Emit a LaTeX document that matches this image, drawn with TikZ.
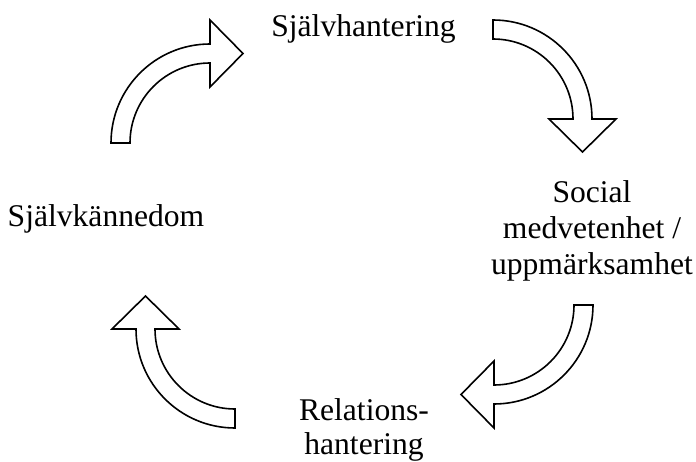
\documentclass[tikz,border=0pt]{standalone}
\usepackage{fontspec}
\setmainfont{Liberation Serif}
\tikzset{
  phase/.style={inner sep=0pt, font=\fontsize{31.6}{36}\selectfont, align=center},
  bendarrow/.pic={
    \draw[line width=1.6pt, fill=white]
      (-99,0) arc[start angle=180, end angle=270, radius=99]
      -- (0,-123) -- (33,-89.5) -- (0,-56) -- (0,-80)
      arc[start angle=270, end angle=180, radius=80] -- cycle;
  }
}
\begin{document}
\begin{tikzpicture}[x=1pt,y=-1pt]
\useasboundingbox (0,0) rectangle (696,462);
% the four steps
\node[phase, anchor=base] (hantering) at (363.5,37) {Självhantering};
\node[phase, anchor=base] (kannedom) at (106,227) {Självkännedom};
\node[phase, anchor=north] (social) at (592,180) {Social\\medvetenhet /\\uppmärksamhet};
\node[phase, anchor=north, font=\fontsize{31.6}{34}\selectfont] (relation) at (364,398) {Relations-\\hantering};
% curved block arrows between them
\pic at (210,143) {bendarrow};
\pic[rotate=-90] at (493,119) {bendarrow};
\pic[rotate=-180] at (494,305) {bendarrow};
\pic[rotate=90] at (235,329) {bendarrow};
\end{tikzpicture}
\end{document}
